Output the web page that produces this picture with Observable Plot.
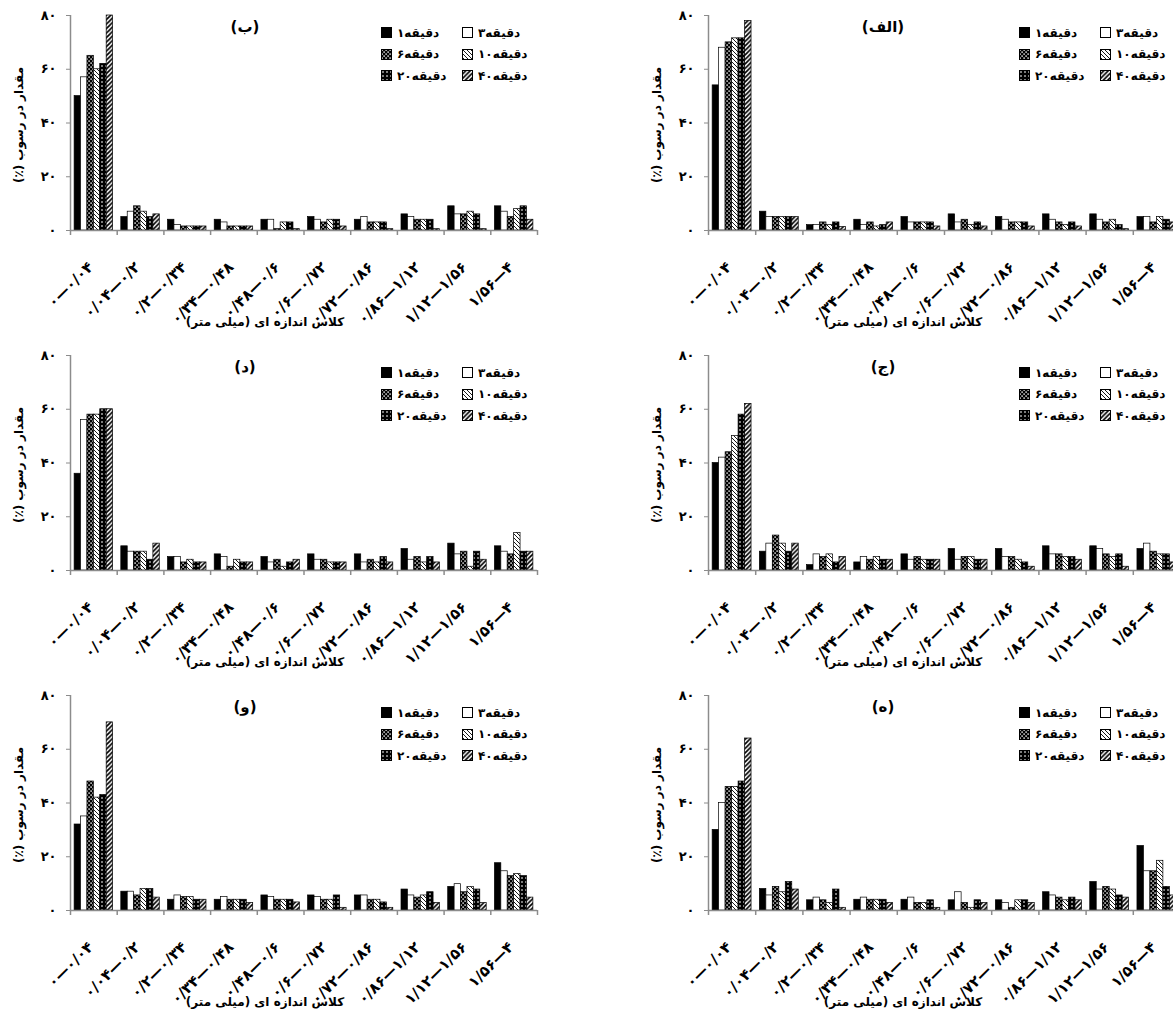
<!DOCTYPE html>
<html>
<head>
<meta charset="utf-8">
<script src="https://cdn.jsdelivr.net/npm/d3@7"></script>
<script src="https://cdn.jsdelivr.net/npm/@observablehq/plot@0.6"></script>
<style>
  html, body { margin: 0; padding: 0; background: #fff; }
  body { width: 1173px; height: 1014px; overflow: hidden; position: relative; font-family: "DejaVu Sans", sans-serif; }
  .panel { position: absolute; }
  .ptitle { position: absolute; font-weight: bold; font-size: 15px; transform: translate(-50%, -50%); white-space: nowrap; direction: rtl; }
  .xtitle { position: absolute; font-weight: bold; font-size: 12px; transform: translate(-50%, -50%); white-space: nowrap; direction: rtl; }
  .ytitle { position: absolute; font-weight: bold; font-size: 12px; transform: translate(-50%, -50%) rotate(-90deg); white-space: nowrap; direction: rtl; }
  .legend { position: absolute; display: grid; grid-template-columns: 81px 81px; grid-auto-rows: 21.5px; font-weight: bold; font-size: 12px; }
  .legend .item { display: flex; align-items: center; white-space: nowrap; direction: ltr; }
  .legend svg { margin-right: 5px; flex: none; }
</style>
</head>
<body>
<svg width="0" height="0" style="position:absolute">
  <defs>
    <pattern id="p6" patternUnits="userSpaceOnUse" width="4" height="4">
      <rect width="4" height="4" fill="black"/>
      <rect x="0.4" y="0.4" width="1.4" height="1.4" fill="white"/>
      <rect x="2.4" y="2.4" width="1.4" height="1.4" fill="white"/>
    </pattern>
    <pattern id="p10" patternUnits="userSpaceOnUse" width="4" height="4">
      <rect width="4" height="4" fill="white"/>
      <path d="M-1,-1 L5,5 M-1,3 L1,5 M3,-1 L5,1" stroke="black" stroke-width="0.9"/>
    </pattern>
    <pattern id="p20" patternUnits="userSpaceOnUse" width="4" height="4">
      <rect width="4" height="4" fill="black"/>
      <rect x="1.3" y="1.3" width="1.4" height="1.4" fill="white"/>
    </pattern>
    <pattern id="p40" patternUnits="userSpaceOnUse" width="4.5" height="4.5">
      <rect width="4.5" height="4.5" fill="white"/>
      <path d="M-1,5.5 L5.5,-1 M-1,1 L1,-1 M3.5,5.5 L5.5,3.5" stroke="black" stroke-width="1.7"/>
    </pattern>
  </defs>
</svg>
<script>
// ---------- data ----------
const categories = ["۰—۰/۰۴","۰/۰۴—۰/۲","۰/۲—۰/۳۴","۰/۳۴—۰/۴۸","۰/۴۸—۰/۶","۰/۶—۰/۷۲","۰/۷۲—۰/۸۶","۰/۸۶—۱/۱۲","۱/۱۲—۱/۵۶","۱/۵۶—۴"];
const seriesNumbers = ["۱","۳","۶","۱۰","۲۰","۴۰"];
const seriesWord = "دقیقه";
const seriesNames = seriesNumbers.map(n => n + seriesWord);
const seriesFills = ["black","white","url(#p6)","url(#p10)","url(#p20)","url(#p40)"];
const yTicks = [0, 20, 40, 60, 80];
const panelLabels = ["(الف)","(ب)","(ج)","(د)","(ه)","(و)"];
const yTitle = "مقدار در رسوب (٪)";
const xTitle = "کلاس اندازه ای (میلی متر)";

// rows = series (1, 3, 6, 10, 20, 40 min), columns = size classes
const dataAlef = [
  [54, 7, 2, 4, 5, 6, 5, 6, 6, 5],
  [68, 5, 2, 2, 3, 3, 4, 4, 4, 5],
  [70, 5, 3, 3, 3, 4, 3, 3, 3, 3],
  [71.5, 5, 2, 1.5, 3, 2, 3, 2, 4, 5],
  [71.5, 5, 3, 2, 3, 3, 3, 3, 2, 4],
  [78, 5, 1.3, 3, 1.5, 1.5, 1.5, 1.5, 0.5, 3]
];
const dataBe = [
  [50, 5, 4, 4, 4, 5, 4, 6, 9, 9],
  [57, 7, 2, 3, 4, 4, 5, 5, 6, 7],
  [65, 9, 1.5, 1.5, 0.5, 3, 3, 4, 6, 5],
  [60, 7, 1.5, 1.5, 3, 4, 3, 4, 7, 8],
  [62, 5, 1.5, 1.5, 3, 4, 3, 4, 6, 9],
  [80, 6, 1.5, 1.5, 0.5, 1.5, 0.5, 0.5, 0.5, 4]
];
const dataJim = [
  [40, 7, 2, 3, 6, 8, 8, 9, 9, 8],
  [42, 10, 6, 5, 4, 4, 5, 6, 8, 10],
  [44, 13, 5, 4, 5, 5, 5, 6, 6, 7],
  [50, 10, 6, 5, 4, 5, 4, 5, 5, 6],
  [58, 7, 3, 4, 4, 4, 3, 5, 6, 6],
  [62, 10, 5, 4, 4, 4, 1.4, 4, 1.4, 3]
];
const dataDal = [
  [36, 9, 5, 6, 5, 6, 6, 8, 10, 9],
  [56, 7, 5, 5, 3, 4, 3, 4, 6, 7],
  [58, 7, 3, 1.4, 4, 4, 4, 5, 7, 6],
  [58, 7, 4, 4, 1.4, 3, 3, 3, 1.4, 14],
  [60, 4, 3, 3, 3, 3, 5, 5, 7, 7],
  [60, 10, 3, 3, 4, 3, 3, 3, 4, 7]
];
const dataHe = [
  [30, 8, 3.8, 4, 4, 3.8, 3.8, 6.8, 10.6, 24],
  [40, 5.6, 4.8, 4.8, 4.8, 6.8, 2.8, 5.6, 7.8, 14.6],
  [46, 8.8, 3.8, 4, 2.8, 2.8, 1, 4.8, 8.8, 14.6],
  [46, 6.8, 2.8, 4, 2.8, 1, 3.8, 3.8, 7.8, 18.5],
  [48, 10.6, 7.8, 4, 3.8, 3.8, 3.8, 4.8, 5.6, 8.8],
  [64, 7.8, 1, 2.8, 1, 2.8, 2.8, 3.8, 4.8, 5.6]
];
const dataVav = [
  [32, 7, 4, 4, 5.6, 5.6, 5.6, 7.8, 8.8, 17.6],
  [35, 7, 5.6, 5, 5, 5, 5.6, 5.6, 9.8, 14.6],
  [48, 5.6, 5, 4, 4, 4, 4, 4.8, 6.8, 12.8],
  [42, 8, 5, 4, 4, 4, 4, 5.6, 8.8, 13.6],
  [43, 8, 4, 4, 4, 5.6, 3, 6.8, 7.8, 12.8],
  [70, 4.8, 4, 2.8, 3, 1, 1, 2.8, 2.8, 4.8]
];

// ---------- layout ----------
const panels = [
  {label: panelLabels[0], data: dataAlef, left: 638, top: 0,   mr: 48},
  {label: panelLabels[1], data: dataBe,   left: 0,   top: 0,   mr: 53},
  {label: panelLabels[2], data: dataJim,  left: 638, top: 340, mr: 48},
  {label: panelLabels[3], data: dataDal,  left: 0,   top: 340, mr: 53},
  {label: panelLabels[4], data: dataHe,   left: 638, top: 680, mr: 48},
  {label: panelLabels[5], data: dataVav,  left: 0,   top: 680, mr: 53}
];

const fa = v => String(v).replace(/\d/g, d => "۰۱۲۳۴۵۶۷۸۹"[d]);
const LRO = "\u202D", PDF = "\u202C";
const groupGap = 0.088;                       // share of a class band left empty on each side
const barW = (1 - 2 * groupGap) / seriesNames.length;

function makeRows(matrix) {
  const rows = [];
  matrix.forEach((vals, j) => vals.forEach((v, i) => {
    rows.push({cat: i, series: seriesNames[j], value: v,
               x1: i + groupGap + j * barW, x2: i + groupGap + (j + 1) * barW});
  }));
  return rows;
}
const catRows = categories.map((c, i) => ({label: LRO + c + PDF, mid: i + 0.5}));

for (const p of panels) {
  const rows = makeRows(p.data);
  const chart = Plot.plot({
    width: 590, height: 340,
    marginLeft: 70, marginRight: p.mr, marginTop: 15, marginBottom: 110,
    style: {fontFamily: "DejaVu Sans", fontSize: "12px", fontWeight: "bold", background: "transparent", overflow: "visible"},
    x: {domain: [0, categories.length]},
    y: {domain: [0, 80]},
    color: {type: "ordinal", domain: seriesNames, range: seriesFills},
    marks: [
      Plot.rect(rows, {x1: "x1", x2: "x2", y1: 0, y2: "value", fill: "series", stroke: "black", strokeWidth: 0.7}),
      Plot.ruleY([0], {stroke: "#8c8c8c", strokeWidth: 1.5}),
      Plot.ruleX([0], {stroke: "#8c8c8c", strokeWidth: 1.5}),
      Plot.axisX({ticks: d3.range(categories.length + 1), tickSize: 5, tickFormat: () => "", stroke: "#8c8c8c", strokeWidth: 1.5, label: null}),
      Plot.text(catRows, {x: "mid", y: 0, text: "label", rotate: -45, textAnchor: "end", lineAnchor: "middle",
                          dx: -3, dy: 34, fill: "black", fontSize: 15, fontWeight: "bold"}),
      Plot.axisY({ticks: yTicks, tickSize: 4, tickPadding: 10, tickFormat: fa, stroke: "#8c8c8c", fill: "black",
                  label: null, fontSize: 13})
    ]
  });
  chart.classList.add("panel");
  chart.style.left = p.left + "px";
  chart.style.top = p.top + "px";
  document.body.appendChild(chart);

  const t = document.createElement("div");
  t.className = "ptitle";
  t.textContent = p.label;
  t.style.left = (p.left + 245) + "px";
  t.style.top = (p.top + 27) + "px";
  document.body.appendChild(t);

  const yt = document.createElement("div");
  yt.className = "ytitle";
  yt.textContent = yTitle;
  yt.style.left = (p.left + 19) + "px";
  yt.style.top = (p.top + 125) + "px";
  document.body.appendChild(yt);

  const xt = document.createElement("div");
  xt.className = "xtitle";
  xt.textContent = xTitle;
  xt.style.left = (p.left + 265) + "px";
  xt.style.top = (p.top + 322) + "px";
  document.body.appendChild(xt);

  const lg = document.createElement("div");
  lg.className = "legend";
  lg.style.left = (p.left + 381) + "px";
  lg.style.top = (p.top + 22) + "px";
  seriesNames.forEach((name, j) => {
    const it = document.createElement("div");
    it.className = "item";
    it.innerHTML = `<svg width="11" height="11"><rect x="0.5" y="0.5" width="10" height="10" fill="${seriesFills[j]}" stroke="black" stroke-width="1"/></svg><span>${seriesNumbers[j]}</span><span>${seriesWord}</span>`;
    lg.appendChild(it);
  });
  document.body.appendChild(lg);
}
</script>
</body>
</html>
